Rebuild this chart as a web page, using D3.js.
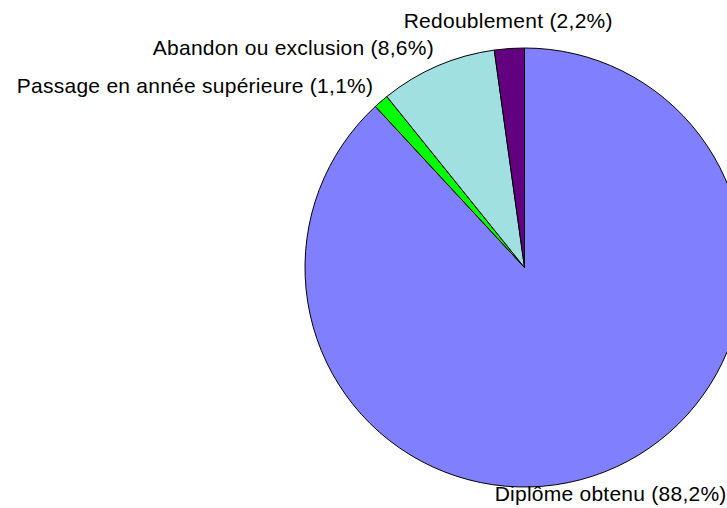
<!DOCTYPE html>
<html>
<head>
<meta charset="utf-8">
<script src="https://cdn.jsdelivr.net/npm/d3@7/dist/d3.min.js"></script>
<style>
  html, body { margin: 0; padding: 0; background: #fff; }
  svg { display: block; }
  text { font-family: "Liberation Sans", Arial, sans-serif; font-size: 21px; letter-spacing: 0.25px; fill: #000; }
</style>
</head>
<body>
<svg id="chart" width="727" height="508"></svg>
<script>
// Slices, clockwise from 12 o'clock
const categories = ["Diplôme obtenu", "Passage en année supérieure", "Abandon ou exclusion", "Redoublement"];
const values = [88.2, 1.1, 8.6, 2.2];
const colors = ["#8080ff", "#00ff00", "#a0e0e0", "#620080"];

const width = 727, height = 508;
const cx = 524.5, cy = 267.5, radius = 219.5;

const fr = d3.formatLocale({ decimal: ",", thousands: " ", grouping: [3], currency: ["", " €"] });
const pct = fr.format(".1f");

const svg = d3.select("#chart");
const g = svg.append("g").attr("transform", `translate(${cx},${cy})`);

const pie = d3.pie().sort(null).value(d => d.value);
const arc = d3.arc().innerRadius(0).outerRadius(radius);

const data = categories.map((c, i) => ({ name: c, value: values[i], color: colors[i] }));
const arcs = pie(data);

g.selectAll("path")
  .data(arcs)
  .join("path")
  .attr("d", arc)
  .attr("fill", d => d.data.color)
  .attr("stroke", "#000")
  .attr("stroke-width", 1)
  .attr("stroke-linejoin", "round");

// Outside-end labels
const labelR = 236;
g.selectAll("text.label")
  .data(arcs)
  .join("text")
  .attr("class", "label")
  .each(function(d) {
    const a = (d.startAngle + d.endAngle) / 2;
    const s = Math.sin(a), c = Math.cos(a);
    let x = s * labelR, y = -c * labelR;
    let anchor = "middle";
    if (s < -0.375) { anchor = "end"; x += 3; y -= 3; }
    else if (s > 0.375) { anchor = "start"; x -= 3; y -= 3; }
    else { y += -c * 9.5 - 2; }
    d3.select(this)
      .attr("x", x)
      .attr("y", y)
      .attr("dy", "0.35em")
      .attr("text-anchor", anchor)
      .text(`${d.data.name} (${pct(d.data.value)}%)`);
  });
</script>
</body>
</html>
